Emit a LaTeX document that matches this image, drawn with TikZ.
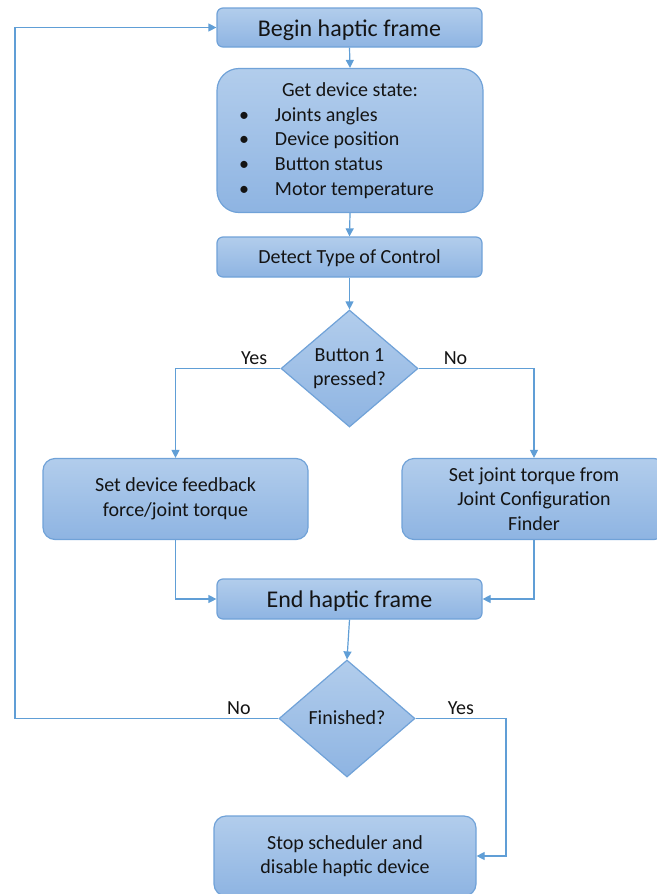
\documentclass[tikz,border=0pt]{standalone}
\usepackage{fontspec}
\setmainfont{Carlito}
\usepackage{tikz}
\usetikzlibrary{arrows.meta,shapes.geometric}
\definecolor{boxtop}{RGB}{178,205,236}
\definecolor{boxbot}{RGB}{142,180,226}
\definecolor{boxline}{RGB}{112,162,216}
\definecolor{flowline}{RGB}{96,158,214}
\definecolor{txt}{RGB}{20,20,20}
\newcommand{\stateitem}[1]{\makebox[222pt][l]{\makebox[36pt][l]{\textbullet}#1}}

\begin{document}
\begin{tikzpicture}[x=1pt,y=-1pt,>={Triangle[length=8pt,width=8pt]},
                    line width=1.2pt]
  \tikzstyle{every node}=[text=txt,font=\fontsize{20pt}{24.6pt}\selectfont]
  \tikzstyle{block}=[draw=boxline,top color=boxtop,bottom color=boxbot,
                     rounded corners=6pt,inner sep=0pt,align=center]
  \tikzstyle{bigtext}=[font=\fontsize{24pt}{29pt}\selectfont,text height=22pt,text depth=5pt]
  \tikzstyle{oneline}=[text height=17pt,text depth=4.5pt]
  \tikzstyle{decision}=[diamond,draw=boxline,top color=boxtop,bottom color=boxbot,
                        inner sep=0pt,align=center]
  \tikzstyle{flow}=[draw=flowline,->]
  \tikzstyle{lbl}=[above,inner sep=3pt]

  \useasboundingbox (0,0) rectangle (656,894);

  \node[block,bigtext,minimum width=265pt,minimum height=39pt] (begin) at (349.5,27.5) {Begin haptic frame};
  \node[block,rounded corners=22pt,minimum width=266pt,minimum height=144pt] (state) at (350,140.5)
       {Get device state:\\ \stateitem{Joints angles}\\ \stateitem{Device position}\\
        \stateitem{Button status}\\ \stateitem{Motor temperature}};
  \node[block,oneline,minimum width=265pt,minimum height=40pt] (detect) at (349.5,257) {Detect Type of Control};
  \node[decision,minimum width=137pt,minimum height=117pt] (button) at (349.5,368.5) {Button 1\\pressed?};
  \node[block,rounded corners=12pt,minimum width=265pt,minimum height=81pt] (left) at (175.5,499)
       {Set device feedback\\force/joint torque};
  \node[block,rounded corners=12pt,minimum width=264pt,minimum height=81pt] (right) at (534,499)
       {Set joint torque from\\Joint Configuration\\Finder};
  \node[block,bigtext,minimum width=265pt,minimum height=40pt] (end) at (349.5,599) {End haptic frame};
  \node[decision,oneline,minimum width=136pt,minimum height=117pt] (fin) at (347,718.5) {Finished?};
  \node[block,rounded corners=12pt,minimum width=262pt,minimum height=80pt] (stop) at (345,856)
       {Stop scheduler and\\disable haptic device};

  \coordinate (back) at (15,718.5);
  \coordinate (out) at (506,718.5);

  \draw[flow] (begin.south) -- (state.north);
  \draw[flow] (state.south) -- (detect.north);
  \draw[flow] (detect.south) -- (button.north);
  \draw[flow] (button.west) -| node[lbl,pos=0.125] {Yes} (left.north);
  \draw[flow] (button.east) -| node[lbl,pos=0.16] {No} (right.north);
  \draw[flow] (left.south) |- (end.west);
  \draw[flow] (right.south) |- (end.east);
  \draw[flow] (end.south) -- (fin.north);
  \draw[flow] (fin.west) -- node[lbl,pos=0.15] {No} (back) |- (begin.west);
  \draw[flow] (fin.east) -- node[lbl] {Yes} (out) |- (stop.east);
\end{tikzpicture}
\end{document}
